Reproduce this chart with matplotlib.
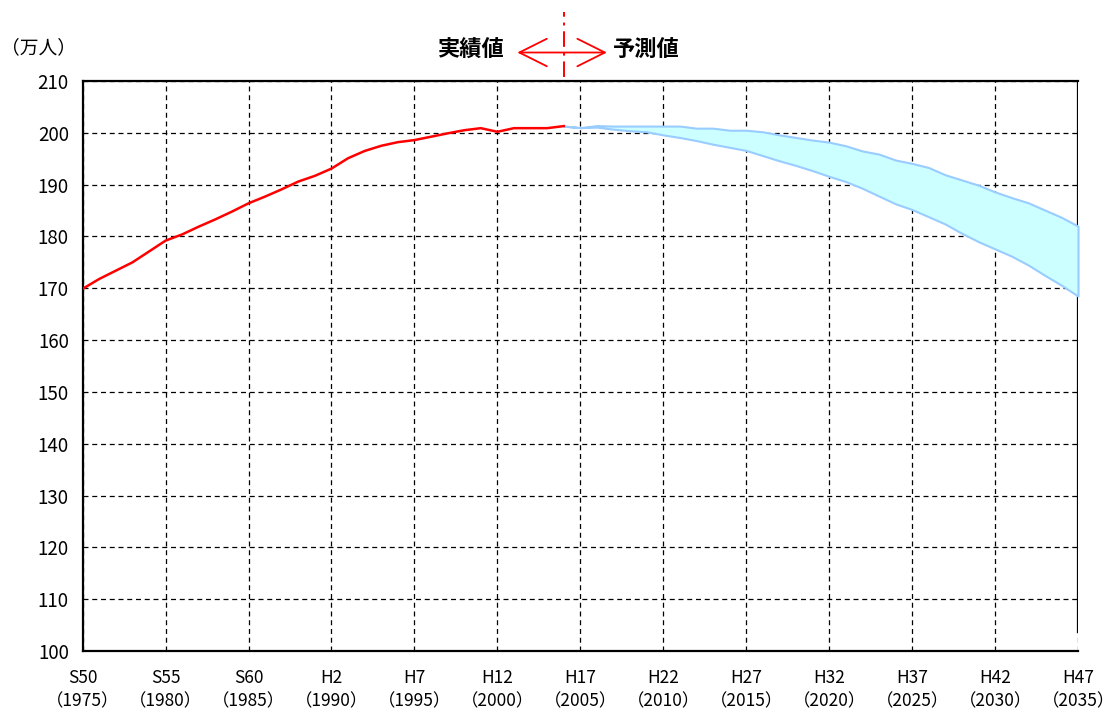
import matplotlib
matplotlib.use("Agg")
import matplotlib.pyplot as plt

plt.rcParams["font.family"] = ["Noto Sans CJK JP", "DejaVu Sans"]

# 実績値（万人）
years_actual = list(range(1975, 2005))
pop_actual = [169.9, 171.8, 173.4, 175.0, 177.1, 179.2, 180.4, 181.9, 183.3, 184.8,
              186.4, 187.7, 189.1, 190.6, 191.7, 193.1, 195.1, 196.5, 197.5, 198.2,
              198.6, 199.25, 199.9, 200.5, 200.9, 200.2, 200.9, 200.9, 200.9, 201.3]

# 予測値（上限・下限）
years_proj = list(range(2004, 2036))
proj_high = [201.3, 201.0, 201.4, 201.3, 201.3, 201.3, 201.3, 201.3, 200.9, 200.9,
             200.5, 200.5, 200.2, 199.6, 199.1, 198.6, 198.2, 197.5, 196.5, 195.9,
             194.75, 194.1, 193.3, 191.9, 190.9, 189.9, 188.6, 187.5, 186.5, 185.1,
             183.7, 182.0]
proj_low = [201.3, 201.0, 201.1, 200.7, 200.4, 200.2, 199.6, 199.1, 198.5, 197.8,
            197.2, 196.6, 195.6, 194.6, 193.7, 192.7, 191.6, 190.6, 189.3, 187.8,
            186.3, 185.2, 183.8, 182.4, 180.6, 179.0, 177.6, 176.2, 174.5, 172.5,
            170.6, 168.5]

tick_years = [1975, 1980, 1985, 1990, 1995, 2000, 2005, 2010, 2015, 2020, 2025, 2030, 2035]
tick_labels = ["S50\n（1975）", "S55\n（1980）", "S60\n（1985）", "H2\n（1990）",
               "H7\n（1995）", "H12\n（2000）", "H17\n（2005）", "H22\n（2010）",
               "H27\n（2015）", "H32\n（2020）", "H37\n（2025）", "H42\n（2030）",
               "H47\n（2035）"]
y_ticks = list(range(100, 211, 10))

fig = plt.figure(figsize=(11.14, 7.15), dpi=100)
ax = fig.add_axes([0.0742, 0.0895, 0.8935, 0.7972])

ax.set_xlim(1975, 2035)
ax.set_ylim(100, 210)
ax.set_xticks(tick_years)
ax.set_xticklabels(tick_labels, fontsize=12.5, linespacing=1.4)
ax.set_yticks(y_ticks)
ax.tick_params(axis="y", length=0, labelsize=13.5, pad=10)
ax.tick_params(axis="x", length=0, pad=13)

ax.grid(True, color="black", linestyle=(0, (4, 3)), linewidth=0.9)
ax.set_axisbelow(True)

for s in ["left", "bottom", "top"]:
    ax.spines[s].set_linewidth(1.6)
ax.spines["right"].set_visible(False)
ax.axvline(2035, ymin=0.033, ymax=1, color="black", linewidth=1.6, zorder=2.5)

ax.fill_between(years_proj, proj_low, proj_high, facecolor="#CCFFFF",
                edgecolor="#99CCFF", linewidth=1.5, zorder=3, clip_on=False)
ax.plot(years_actual, pop_actual, color="#FF0000", linewidth=1.8, zorder=4)

# 実績値 / 予測値 の境界
ax.plot([2004, 2004], [210.8, 223.4], color="#FF0000", linewidth=1.4,
        linestyle=(0, (8, 3, 1.5, 3)), clip_on=False, zorder=5)
ax.annotate("", xy=(2001.2, 215.5), xytext=(2006.6, 215.5),
            arrowprops=dict(arrowstyle="<->,head_length=0.6,head_width=0.3",
                            color="#FF0000", lw=1.3, mutation_scale=33,
                            shrinkA=0, shrinkB=0),
            annotation_clip=False)
ax.text(1998.4, 216.1, "実績値", fontsize=16, fontweight="bold",
        ha="center", va="center", clip_on=False)
ax.text(2009.0, 216.1, "予測値", fontsize=16, fontweight="bold",
        ha="center", va="center", clip_on=False)

fig.text(38 / 1114, 1 - 48 / 715, "（万人）", fontsize=13.5, ha="center", va="center")

fig.savefig("out.png", dpi=100)
